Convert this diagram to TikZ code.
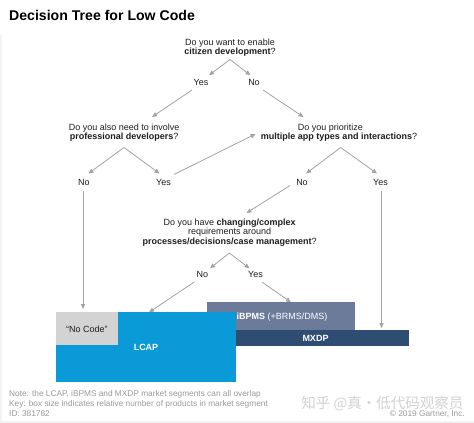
\documentclass[tikz,border=0pt]{standalone}
\usepackage{fontspec}
\setmainfont{Liberation Sans}
\newfontfamily\cjkfont{Noto Sans CJK SC}
\usetikzlibrary{arrows.meta}
\definecolor{arrowgray}{HTML}{A3A3A3}
\definecolor{lcapblue}{HTML}{0A9AD8}
\definecolor{bpmsslate}{HTML}{6D7B9B}
\definecolor{mxdpnavy}{HTML}{2F4C72}
\definecolor{nocodegray}{HTML}{D3D3D3}
\definecolor{notegray}{HTML}{9A9A9A}
\definecolor{wmgray}{HTML}{D2D2D2}
\definecolor{framegray}{HTML}{F3F3F3}
\definecolor{qtext}{HTML}{1E1E1E}
\begin{document}
\begin{tikzpicture}[x=1pt,y=-1pt,
  conn/.style={draw=arrowgray, line width=0.8pt, -{Triangle[length=5pt,width=4.2pt]}},
  question/.style={font=\fontsize{9}{9.65}\selectfont, align=center, inner sep=0pt, anchor=north, text=qtext},
  answer/.style={font=\fontsize{9}{10}\selectfont, inner sep=0pt, anchor=base, text=qtext},
  boxtext/.style={font=\fontsize{9}{10}\selectfont\bfseries, inner sep=0pt, text=white},
  note/.style={font=\fontsize{8.3}{10}\selectfont, inner sep=0pt, anchor=base west, text=notegray}
]
\useasboundingbox (0,0) rectangle (474,423);
\fill[white] (0,0) rectangle (474,423);
\fill[framegray] (0,35) rectangle (2,423);
\fill[framegray] (0,420.5) rectangle (474,423);

% title
\node[anchor=base west, inner sep=0pt, font=\fontsize{14.1}{16}\selectfont\bfseries] (title) at (9,20.5) {Decision Tree for Low Code};

% questions
\node[question] (q1) at (230,38.4) {Do you want to enable\\\textbf{citizen development}?};
\node[question] (q2) at (124.2,123.3) {Do you also need to involve\\\textbf{professional developers}?};
\node[question] (q3) at (339,123.3) {Do you prioritize\hspace*{17pt}\\\textbf{multiple app types and interactions}?};
\node[question] (q4) at (229.7,218.6) {Do you have \textbf{changing/complex}\\requirements around\\\textbf{processes/decisions/case management}?};

% answers
\node[answer] (y1) at (201,85) {Yes};
\node[answer] (n1) at (254,85) {No};
\node[answer] (n2) at (84,185.5) {No};
\node[answer] (y2) at (163.5,185.5) {Yes};
\node[answer] (n3) at (302,185.5) {No};
\node[answer] (y3) at (380.5,185.5) {Yes};
\node[answer] (n4) at (202.5,277.5) {No};
\node[answer] (y4) at (255.5,277.5) {Yes};

% segment boxes
\fill[bpmsslate] (207.3,302.3) rectangle (355.3,330.2);
\fill[mxdpnavy] (207.3,330.2) rectangle (409.3,346.3);
\fill[lcapblue] (55.7,312.3) rectangle (236,381.7);
\fill[nocodegray] (55.7,312.3) rectangle (118.3,345);
\coordinate (bpmstop) at (291,302.3);
\coordinate (lcaptop) at (149,312.3);
\coordinate (nocodetop) at (83,309);
\coordinate (mxdptop) at (381.5,328);

\node[boxtext, anchor=west] (bpms) at (236.3,317.3) {iBPMS \mdseries(+BRMS/DMS)};
\node[boxtext] (mxdp) at (315.5,338.3) {MXDP};
\node[boxtext] (lcap) at (146,347) {LCAP};
\node[inner sep=0pt, font=\fontsize{9}{10}\selectfont, text=qtext] (nocode) at (86.8,328.8) {“No Code”};

% connector coordinates
\coordinate (q1apex) at (230,59.5);
\coordinate (y1in) at (209,75.3);
\coordinate (n1in) at (250.5,75.3);
\coordinate (y1out) at (192,90);
\coordinate (n1out) at (263,90);
\coordinate (q2in) at (152,117);
\coordinate (q3in) at (303.5,117);
\coordinate (q2apex) at (124,147.5);
\coordinate (n2in) at (88.5,173.5);
\coordinate (y2in) at (159.5,173.5);
\coordinate (y2out) at (174,174.5);
\coordinate (q3side) at (255.5,134);
\coordinate (q3apex) at (340.7,147.5);
\coordinate (n3in) at (306,173.5);
\coordinate (y3in) at (377,173.5);
\coordinate (n3out) at (290,185.5);
\coordinate (q4in) at (246.5,213);
\coordinate (n2out) at (83,191);
\coordinate (y3out) at (381.5,191);
\coordinate (q4apex) at (229.3,253);
\coordinate (n4in) at (210,268.3);
\coordinate (y4in) at (249.5,268.3);
\coordinate (n4out) at (194.3,282);
\coordinate (y4out) at (262,282);

% connectors
\draw[conn] (q1apex) -- (y1in);
\draw[conn] (q1apex) -- (n1in);
\draw[conn] (y1out) -- (q2in);
\draw[conn] (n1out) -- (q3in);
\draw[conn] (q2apex) -- (n2in);
\draw[conn] (q2apex) -- (y2in);
\draw[conn] (y2out) -- (q3side);
\draw[conn] (q3apex) -- (n3in);
\draw[conn] (q3apex) -- (y3in);
\draw[conn] (n3out) -- (q4in);
\draw[conn] (n2out) -- (nocodetop);
\draw[conn] (y3out) -- (mxdptop);
\draw[conn] (q4apex) -- (n4in);
\draw[conn] (q4apex) -- (y4in);
\draw[conn] (n4out) -- (lcaptop);
\draw[conn] (y4out) -- (bpmstop);

% notes
\node[note] (note1) at (9,396.3) {Note: the LCAP, iBPMS and MXDP market segments can all overlap};
\node[note] (note2) at (9,406.3) {Key: box size indicates relative number of products in market segment};
\node[note] (note3) at (9,416.3) {ID: 381782};
\node[inner sep=0pt, anchor=east, font=\cjkfont\fontsize{14.5}{15}\selectfont, text=wmgray] (wm) at (463.5,404) {知乎 @真·低代码观察员};
\node[note, anchor=base east] (copy) at (465,416.3) {© 2019 Gartner, Inc.};
\end{tikzpicture}
\end{document}
